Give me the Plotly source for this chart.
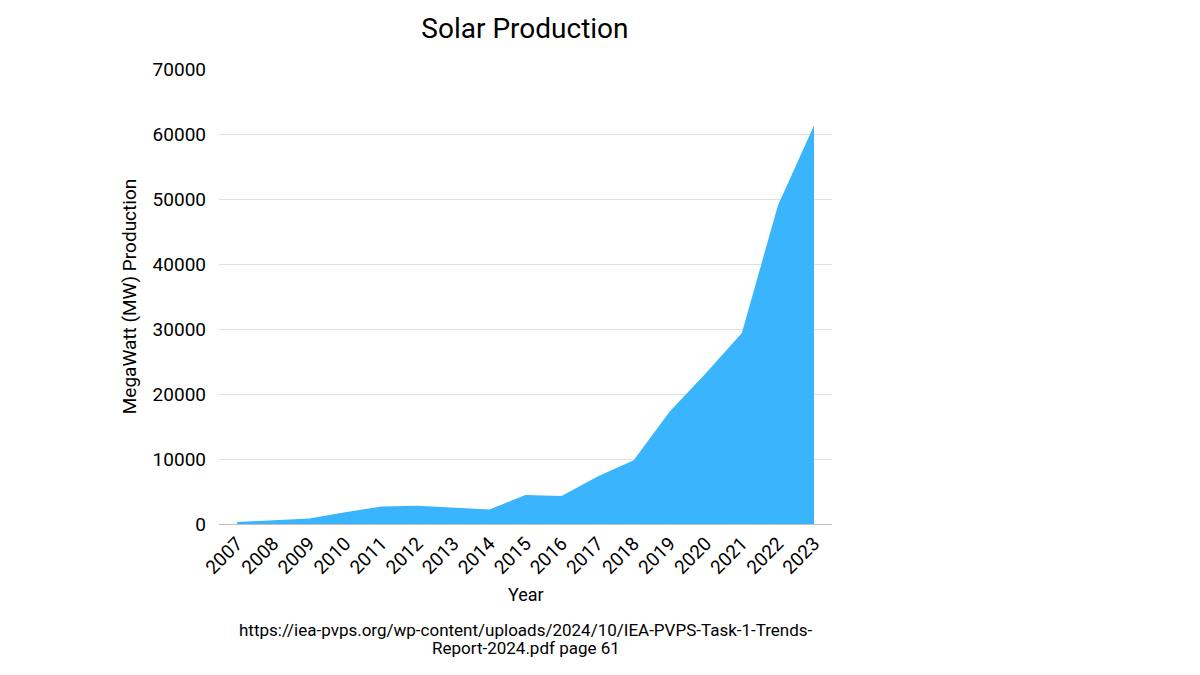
import plotly.graph_objects as go

years = [str(y) for y in range(2007, 2024)]
production_mw = [300, 550, 860, 1800, 2700, 2800, 2550, 2250, 4450, 4300,
                 7300, 9800, 17300, 23200, 29400, 49000, 61300]

source_lines = ["https://iea-pvps.org/wp-content/uploads/2024/10/IEA-PVPS-Task-1-Trends-",
                "Report-2024.pdf page 61"]

fig = go.Figure()
fig.add_trace(go.Scatter(x=years, y=production_mw, mode='lines', fill='tozeroy',
                         line=dict(color='#3AB4FC', width=0), fillcolor='#3AB4FC',
                         showlegend=False))

# page has an 8px body margin, so margins are shifted by that
fig.update_layout(
    width=1200, height=675,
    margin=dict(l=211, r=376, t=61, b=159),
    paper_bgcolor='white', plot_bgcolor='white',
    font=dict(family='Roboto', size=16, color='#000000'),
    title=dict(text='Solar Production', x=0.4308, xanchor='center', y=0.970,
               yanchor='middle', font=dict(size=28)),
)
fig.update_xaxes(type='category', range=[-0.5, 16.5], tickangle=-45,
                 showgrid=False, showline=True, linecolor='#bdbdbd',
                 tickfont=dict(size=19))
fig.update_yaxes(range=[0, 70000], dtick=10000, showgrid=True, gridcolor='#e0e0e0',
                 zeroline=False, tickformat='d', ticklabelstandoff=12,
                 title=dict(text='MegaWatt (MW) Production', standoff=10),
                 tickfont=dict(size=19))

fig.add_annotation(text='Year', xref='paper', yref='paper', x=0.5, y=-0.156,
                   xanchor='center', yanchor='middle', showarrow=False,
                   font=dict(size=18))
for i, line in enumerate(source_lines):
    fig.add_annotation(text=line, xref='paper', yref='paper', x=0.5, y=-0.233 - 0.0395 * i,
                       xanchor='center', yanchor='middle', showarrow=False,
                       font=dict(size=17))

fig.write_html("out.html")
